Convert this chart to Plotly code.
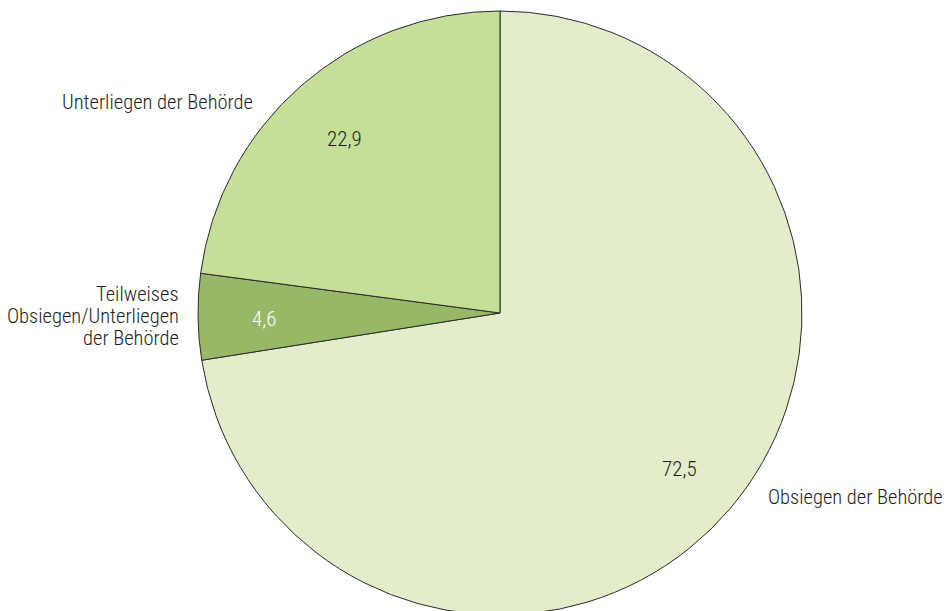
import math
import plotly.graph_objects as go

# Data
categories = ["Obsiegen der Behörde",
              "Teilweises<br>Obsiegen/Unterliegen<br>der Behörde",
              "Unterliegen der Behörde"]
values = [72.5, 4.6, 22.9]
value_labels = ["72,5", "4,6", "22,9"]
colors = ["#e3edcb", "#97b967", "#c5df96"]
value_text_colors = ["#1d1d1b", "#ffffff", "#1d1d1b"]

W, H = 947, 620          # figure a bit taller than the 611 window; the pie is cut at the bottom
CX, CY, R = 500.0, 313.0, 302.0  # pixel geometry of the pie

dom_x = [(CX - R) / W, (CX + R) / W]
dom_y = [1 - (CY + R) / H, 1 - (CY - R) / H]

FONT = "Liberation Sans Narrow, Roboto Condensed, Arial Narrow, Liberation Sans, sans-serif"
FS_LABEL = 20.5
FS_VALUE = 21
LINE_H = 22

fig = go.Figure(go.Pie(
    labels=categories,
    values=values,
    sort=False,
    direction="clockwise",
    rotation=0,
    marker=dict(colors=colors, line=dict(color="#2b2b2b", width=1)),
    textinfo="none",
    hoverinfo="label+value",
    showlegend=False,
    domain=dict(x=dom_x, y=dom_y),
))

annotations = []
# value labels placed along each slice's mid-angle
total = sum(values)
cum = 0.0
for v, t, c in zip(values, value_labels, value_text_colors):
    mid = (cum + v / 2) / total * 2 * math.pi
    cum += v
    px = CX + 0.78 * R * math.sin(mid)
    py = CY - 0.78 * R * math.cos(mid) + 3
    annotations.append(dict(x=px / W, y=1 - py / H, xref="paper", yref="paper",
                            text=t, showarrow=False,
                            font=dict(family=FONT, size=FS_VALUE, color=c, weight=300),
                            xanchor="center", yanchor="middle"))

# category labels outside the pie (one annotation per line for tight line spacing)
label_pos = [
    (766, 497, "left"),
    (181, 316, "right"),
    (255, 102, "right"),
]
for cat, (px, py, anchor) in zip(categories, label_pos):
    lines = cat.split("<br>")
    n = len(lines)
    for i, ln in enumerate(lines):
        ly = py + (i - (n - 1) / 2) * LINE_H
        annotations.append(dict(x=px / W, y=1 - ly / H, xref="paper", yref="paper",
                                text=ln, showarrow=False, align=anchor,
                                font=dict(family=FONT, size=FS_LABEL, color="#1d1d1b", weight=300),
                                xanchor=anchor, yanchor="middle"))

fig.update_layout(
    width=W, height=H,
    margin=dict(l=0, r=0, t=0, b=0),
    paper_bgcolor="white",
    plot_bgcolor="white",
    annotations=annotations,
)

fig.write_html(
    "out.html",
    config={"displayModeBar": False},
    post_script="document.body.style.margin='0';document.body.style.overflow='hidden';"
                "document.documentElement.style.overflow='hidden';",
)
